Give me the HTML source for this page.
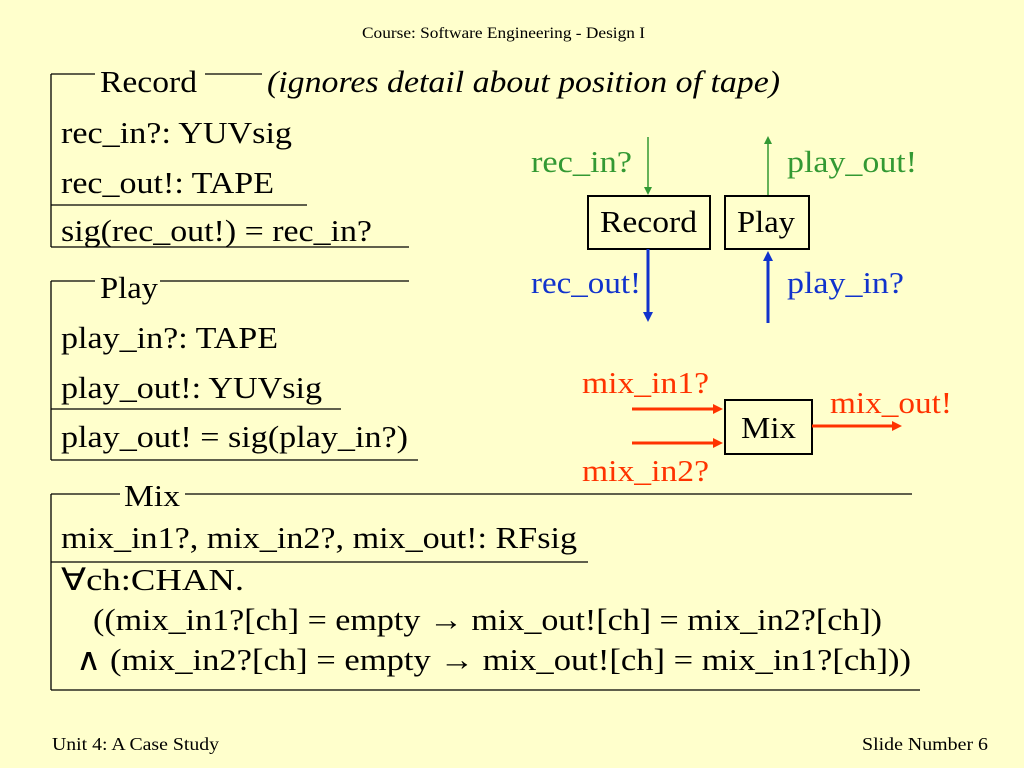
<!DOCTYPE html>
<html><head><meta charset="utf-8"><style>
html,body{margin:0;padding:0;background:#FFFFCC;}
svg{display:block;}
text{font-family:"Liberation Serif","Times New Roman",serif;}
</style></head><body>
<svg width="1024" height="768" viewBox="0 0 1024 768">
<rect width="1024" height="768" fill="#FFFFCC"/>
<defs>
<marker id="ag" markerWidth="8" markerHeight="8" refX="4" refY="4" orient="auto" markerUnits="userSpaceOnUse"><path d="M0,0 L8,4 L0,8 z" fill="#339933"/></marker>
<marker id="ab" markerWidth="10" markerHeight="10" refX="5" refY="5" orient="auto" markerUnits="userSpaceOnUse"><path d="M0,0 L10,5 L0,10 z" fill="#1133cc"/></marker>
<marker id="ar" markerWidth="10" markerHeight="10" refX="5" refY="5" orient="auto" markerUnits="userSpaceOnUse"><path d="M0,0 L10,5 L0,10 z" fill="#ff3300"/></marker>
</defs>
<text x="362" y="38" font-size="16" textLength="283" lengthAdjust="spacingAndGlyphs">Course: Software Engineering -  Design I</text>
<text x="52" y="750" font-size="18" textLength="167" lengthAdjust="spacingAndGlyphs">Unit 4: A Case Study</text>
<text x="862" y="750" font-size="18" textLength="126" lengthAdjust="spacingAndGlyphs">Slide Number 6</text>

<g stroke="#000" stroke-width="1.3" fill="none">
<path d="M51,74 H95 M205,74 H262 M51,74 V247 M51,205 H307 M51,247 H409"/>
<path d="M51,281 H95 M160,281 H409 M51,281 V460 M51,409 H341 M51,460 H418"/>
<path d="M51,494 H120 M185,494 H912 M51,494 V690 M51,562 H588 M51,690 H920"/>
</g>
<g font-size="31" fill="#000">
<text x="100" y="92" textLength="97" lengthAdjust="spacingAndGlyphs">Record</text>
<text x="267" y="92" font-style="italic" textLength="513" lengthAdjust="spacingAndGlyphs">(ignores detail about position of tape)</text>
<text x="61" y="143" textLength="231" lengthAdjust="spacingAndGlyphs">rec_in?: YUVsig</text>
<text x="61" y="193" textLength="213" lengthAdjust="spacingAndGlyphs">rec_out!: TAPE</text>
<text x="61" y="241" textLength="311" lengthAdjust="spacingAndGlyphs">sig(rec_out!) = rec_in?</text>
<text x="100" y="298" textLength="58" lengthAdjust="spacingAndGlyphs">Play</text>
<text x="61" y="348" textLength="217" lengthAdjust="spacingAndGlyphs">play_in?: TAPE</text>
<text x="61" y="398" textLength="261" lengthAdjust="spacingAndGlyphs">play_out!: YUVsig</text>
<text x="61" y="447" textLength="347" lengthAdjust="spacingAndGlyphs">play_out! = sig(play_in?)</text>
<text x="124" y="506" textLength="56" lengthAdjust="spacingAndGlyphs">Mix</text>
<text x="61" y="548" textLength="516" lengthAdjust="spacingAndGlyphs">mix_in1?, mix_in2?, mix_out!: RFsig</text>
<text x="61" y="590" textLength="183" lengthAdjust="spacingAndGlyphs">∀ch:CHAN.</text>
<text x="93" y="630" textLength="789" lengthAdjust="spacingAndGlyphs">((mix_in1?[ch] = empty → mix_out![ch] = mix_in2?[ch])</text>
<text x="76" y="670" textLength="835" lengthAdjust="spacingAndGlyphs">∧ (mix_in2?[ch] = empty → mix_out![ch] = mix_in1?[ch]))</text>
<text x="600" y="232" textLength="97" lengthAdjust="spacingAndGlyphs">Record</text>
<text x="737" y="232" textLength="58" lengthAdjust="spacingAndGlyphs">Play</text>
<text x="741" y="438" textLength="55" lengthAdjust="spacingAndGlyphs">Mix</text>
</g>
<g stroke="#000" stroke-width="2" fill="none">
<rect x="588" y="196" width="122" height="53"/>
<rect x="725" y="196" width="84" height="53"/>
<rect x="725" y="400" width="87" height="54"/>
</g>
<g stroke="#339933" stroke-width="1.5">
<line x1="648" y1="137" x2="648" y2="191" marker-end="url(#ag)"/>
<line x1="768" y1="195" x2="768" y2="140" marker-end="url(#ag)"/>
</g>
<g stroke="#1133cc" stroke-width="3">
<line x1="648" y1="249" x2="648" y2="317" marker-end="url(#ab)"/>
<line x1="768" y1="323" x2="768" y2="256" marker-end="url(#ab)"/>
</g>
<g stroke="#ff3300" stroke-width="3">
<line x1="632" y1="409" x2="718" y2="409" marker-end="url(#ar)"/>
<line x1="632" y1="443" x2="718" y2="443" marker-end="url(#ar)"/>
<line x1="812" y1="426" x2="897" y2="426" marker-end="url(#ar)"/>
</g>
<g font-size="31">
<text x="531" y="172" fill="#339933" textLength="101" lengthAdjust="spacingAndGlyphs">rec_in?</text>
<text x="787" y="172" fill="#339933" textLength="130" lengthAdjust="spacingAndGlyphs">play_out!</text>
<text x="531" y="293" fill="#1133cc" textLength="110" lengthAdjust="spacingAndGlyphs">rec_out!</text>
<text x="787" y="293" fill="#1133cc" textLength="117" lengthAdjust="spacingAndGlyphs">play_in?</text>
<text x="582" y="393" fill="#ff3300" textLength="127" lengthAdjust="spacingAndGlyphs">mix_in1?</text>
<text x="830" y="413" fill="#ff3300" textLength="122" lengthAdjust="spacingAndGlyphs">mix_out!</text>
<text x="582" y="481" fill="#ff3300" textLength="127" lengthAdjust="spacingAndGlyphs">mix_in2?</text>
</g>
</svg>
</body></html>
